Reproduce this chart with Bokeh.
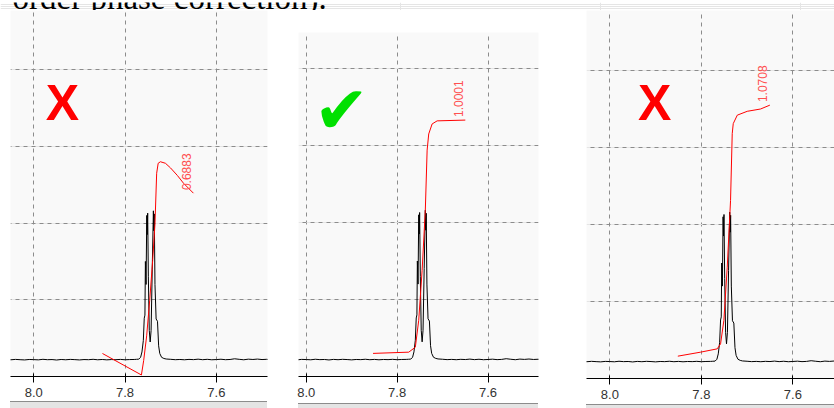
from math import pi
from bokeh.plotting import figure
from bokeh.layouts import column, row
from bokeh.models import Range1d, FixedTicker, Grid, Div, Spacer, NumeralTickFormatter, Label
from bokeh.core.properties import value
from bokeh.embed import file_html
from bokeh.resources import INLINE

# ---------------- data ----------------
heading = "order phase correction)."
x_ticks = [8.0, 7.8, 7.6]
y_grid = [1, 2, 3, 4]

# 1H spectrum (ppm, intensity) – same trace in all three panels
spec_ppm = [8.060, 8.050, 8.040, 8.030, 8.020, 8.010, 8.000, 7.990, 7.980, 7.970,
            7.960, 7.950, 7.940, 7.930, 7.920, 7.910, 7.900, 7.890, 7.880, 7.870,
            7.860, 7.850, 7.840, 7.830, 7.820, 7.810, 7.800, 7.790, 7.780, 7.775,
            7.770, 7.766, 7.763, 7.760, 7.758, 7.7565, 7.7555, 7.7540, 7.7525, 7.7515,
            7.7505, 7.7490, 7.7470, 7.7450, 7.7430, 7.7405, 7.7380, 7.7370, 7.7360, 7.7345,
            7.7320, 7.7290, 7.7265, 7.7240, 7.7200, 7.7150, 7.7100, 7.7000, 7.6900, 7.6800,
            7.6700, 7.6600, 7.6500, 7.6400, 7.6300, 7.6200, 7.6100, 7.6000, 7.5900, 7.5800,
            7.5700, 7.5600, 7.5500, 7.5400, 7.5300, 7.5200, 7.5100, 7.5000, 7.4900, 7.4800]
spec_int = [0.221, 0.218, 0.223, 0.219, 0.216, 0.222, 0.220, 0.217, 0.224, 0.219,
            0.221, 0.215, 0.222, 0.218, 0.223, 0.220, 0.216, 0.221, 0.219, 0.224,
            0.218, 0.222, 0.217, 0.221, 0.219, 0.223, 0.218, 0.221, 0.222, 0.224,
            0.226, 0.250, 0.320, 0.470, 0.760, 0.800, 1.500, 1.200, 2.100, 1.850,
            2.130, 1.300, 0.600, 0.450, 0.600, 1.400, 2.160, 1.900, 2.120, 1.200,
            0.750, 0.720, 0.400, 0.300, 0.250, 0.235, 0.228, 0.224, 0.219, 0.222,
            0.218, 0.223, 0.220, 0.226, 0.219, 0.224, 0.218, 0.221, 0.225, 0.219,
            0.222, 0.231, 0.224, 0.218, 0.226, 0.222, 0.227, 0.221, 0.224, 0.220]

# integral curves
int1_ppm = [7.8495, 7.7642, 7.7592, 7.7527, 7.7461, 7.7396, 7.7345, 7.7308, 7.7275,
            7.7226, 7.7116, 7.7005, 7.6853, 7.6720, 7.6503]
int1_val = [0.30, 0.02, 0.21, 0.53, 0.99, 1.51, 1.99, 2.65, 2.78,
            2.80, 2.78, 2.72, 2.62, 2.52, 2.39]
int2_ppm = [7.853, 7.7745, 7.760, 7.7525, 7.745, 7.738, 7.734, 7.7305, 7.723, 7.712, 7.650]
int2_val = [0.30, 0.316, 0.38, 0.73, 1.38, 2.16, 2.94, 3.15, 3.28, 3.32, 3.33]
int3_ppm = [7.8514, 7.8017, 7.7653, 7.7580, 7.7508, 7.7434, 7.7362, 7.7325, 7.7303,
            7.7215, 7.6997, 7.6706, 7.6503]
int3_val = [0.290, 0.342, 0.385, 0.45, 0.753, 1.446, 2.31, 3.18, 3.31,
            3.42, 3.47, 3.50, 3.55]
int_labels = ["0.6883", "1.0001", "1.0708"]
verdicts = ["X", "\u2714", "X"]

# ---------------- styling helpers ----------------
RED = "#ff0000"
GRID = "#8c8c8c"


def panel(xr, ytop, fw, fh, bl, br, bt, bb, ippm, ival, lab, verdict, vpos):
    p = figure(width=bl + fw + br, height=bt + fh + bb,
               x_range=Range1d(*xr), y_range=Range1d(0, ytop),
               output_backend="svg", toolbar_location=None, y_axis_location=None,
               min_border_left=bl, min_border_right=br, min_border_top=bt,
               min_border_bottom=bb, background_fill_color="#f9f9f9",
               border_fill_color="white", outline_line_color=None, margin=0)
    tick = FixedTicker(ticks=x_ticks)
    ax = p.xaxis[0]
    ax.ticker = tick
    ax.formatter = NumeralTickFormatter(format="0.0")
    ax.axis_line_color = "black"
    ax.major_tick_line_color = "black"
    ax.major_tick_in = 3
    ax.major_tick_out = 6
    ax.minor_tick_line_color = None
    ax.major_label_standoff = 5
    ax.major_label_text_font = "Liberation Sans"
    ax.major_label_text_font_size = "13px"
    ax.major_label_text_color = "#333333"
    p.xgrid.ticker = tick
    p.xgrid.grid_line_color = GRID
    p.xgrid.grid_line_dash = "4 4"
    yg = Grid(dimension=1, ticker=FixedTicker(ticks=y_grid),
              grid_line_color=GRID, grid_line_dash="4 4")
    p.add_layout(yg)

    p.line(spec_ppm, spec_int, line_color="black", line_width=1)
    p.line(ippm, ival, line_color=RED, line_width=1)
    p.text([ippm[-1] + 0.015], [ival[-1] + 0.04], text=[lab], angle=pi / 2,
           text_align="left", text_baseline="middle", text_color="#ff5050",
           text_font=value("Liberation Sans"), text_font_size="12px")
    if verdict == "X":
        p.text([vpos[0]], [vpos[1]], text=[verdict], text_align="center",
               text_baseline="middle", text_color=RED,
               text_font=value("Liberation Sans"), text_font_style="bold",
               text_font_size="50px")
    else:
        p.text([vpos[0]], [vpos[1]], text=[verdict], text_align="center",
               text_baseline="middle", text_color="#00e000",
               text_font=value("DejaVu Sans"), text_font_size="66px")
    return p


def bar(left, w, h):
    return row(Spacer(width=left, height=h, margin=0),
               Div(text="", width=w, height=h, margin=0,
                   styles={"background-color": "#e4e4e4",
                           "border-top": "1px solid #8c8c8c",
                           "box-sizing": "border-box"}),
               margin=0)


p1 = panel((8.051, 7.488), 366 / 76.7, 257, 366, 10, 15, 0, 25,
           int1_ppm, int1_val, int_labels[0], verdicts[0], (7.937, 3.572))
p2 = panel((8.017, 7.489), 344 / 77.0, 240, 344, 16, 24, 22, 27,
           int2_ppm, int2_val, int_labels[1], verdicts[1], (7.9224, 3.455))
p3 = panel((8.051, 7.509), 368 / 77.0, 248, 368, 24, 0, 0, 26,
           int3_ppm, int3_val, int_labels[2], verdicts[2], (7.902, 3.584))

col1 = column(p1, bar(10, 257, 7), margin=0)
col2 = column(p2, bar(16, 240, 5), margin=0)
col3 = column(p3, bar(24, 248, 4), margin=0)

head = figure(width=834, height=10, x_range=Range1d(0, 834), y_range=Range1d(0, 10),
              output_backend="svg", toolbar_location=None, x_axis_location=None,
              y_axis_location=None, min_border=0, outline_line_color=None,
              background_fill_color="white", border_fill_color="white", margin=0)
head.add_layout(Label(x=12, y=14.6, text=heading, text_align="left",
                      text_baseline="middle", text_color="black",
                      text_font="Liberation Serif", text_font_size="33px"))

layout = column(head, row(col1, col2, col3, margin=0), margin=0)

open("out.html", "w").write(file_html(layout, INLINE))
